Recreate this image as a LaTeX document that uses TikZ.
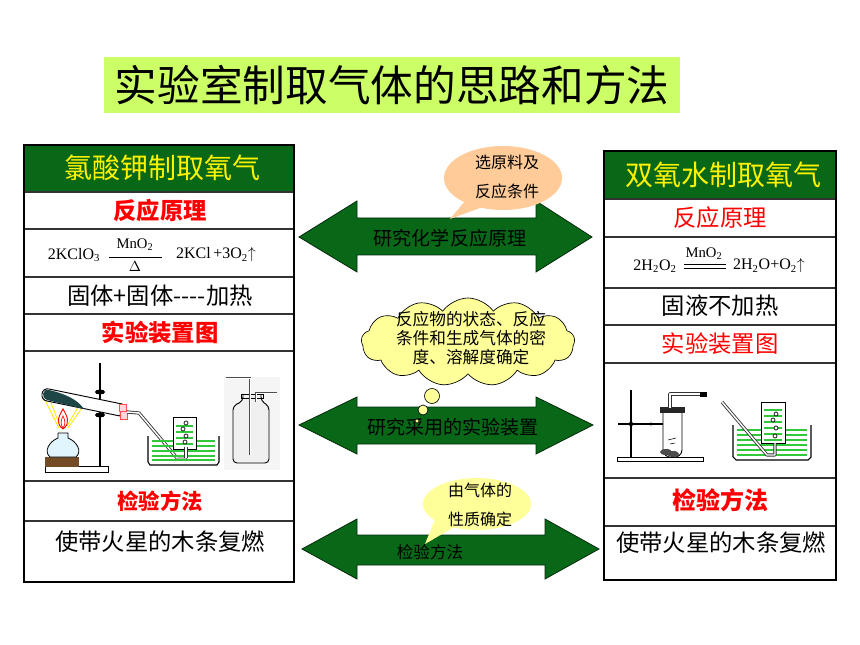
\documentclass[tikz,border=0pt]{standalone}
\usepackage{fontspec}
\setmainfont{Liberation Serif}
\newfontfamily\cjk{Noto Sans CJK SC}
\usetikzlibrary{shapes.symbols}
\definecolor{titlegreen}{HTML}{CCFF66}
\definecolor{darkgreen}{RGB}{8,104,24}
\definecolor{peach}{HTML}{FFCC99}
\definecolor{paleyellow}{HTML}{FFFF99}
\definecolor{watergreen}{RGB}{50,200,60}
\definecolor{tubedark}{RGB}{30,70,70}
\tikzset{
  panel/.style={draw=black, line width=1.5pt},
  rowline/.style={draw=black!80, line width=0.8pt},
  hdr/.style={inner sep=0pt, font=\cjk\fontsize{21}{24}\selectfont, text=yellow},
  redlbl/.style={inner sep=0pt, font=\cjk\bfseries\fontsize{17.5}{20}\selectfont, text=red},
  redlbl2/.style={inner sep=0pt, font=\cjk\fontsize{17.5}{20}\selectfont, text=red},
  blk/.style={inner sep=0pt, font=\cjk\fontsize{17.5}{20}\selectfont, text=black},
  arrowtxt/.style={inner sep=0pt, font=\cjk\fontsize{14.3}{17}\selectfont, text=black},
  calltxt/.style={inner sep=0pt, font=\cjk\fontsize{12}{14}\selectfont, text=black},
  dblarrow/.style={fill=darkgreen, draw=black!60!darkgreen, line width=0.6pt},
  eqtxt/.style={inner sep=0pt, font=\fontsize{12}{14}\selectfont},
  eqsmall/.style={inner sep=0pt, font=\fontsize{11}{13}\selectfont},
  tubeout/.style={line width=2.4pt, black!80, line join=round},
  tubein/.style={line width=1.1pt, white, line join=round},
  water/.style={watergreen, line width=0.9pt},
}
\begin{document}
\begin{tikzpicture}[x=0.75pt,y=-0.75pt]
\useasboundingbox (0,0) rectangle (860,645);
\fill[white] (0,0) rectangle (860,645);

% ---------- title ----------
\fill[titlegreen] (104,57) rectangle (680,113);
\node[inner sep=0pt, font=\cjk\fontsize{32}{36}\selectfont] (title) at (392,85) {实验室制取气体的思路和方法};

% ---------- left panel ----------
\fill[darkgreen] (24,145) rectangle (294,192);
\draw[rowline] (24,192) -- (294,192);
\draw[rowline] (24,229) -- (294,229);
\draw[rowline] (24,277) -- (294,277);
\draw[rowline] (24,314) -- (294,314);
\draw[rowline] (24,351) -- (294,351);
\draw[rowline] (24,481) -- (294,481);
\draw[rowline] (24,521) -- (294,521);
\draw[panel] (24,145) rectangle (294,582);

\node[hdr] (lhdr) at (162,168) {氯酸钾制取氧气};
\node[redlbl] (lprin) at (160,211) {反应原理};
\node[eqtxt] (leq1) at (74,255) {2KClO\textsubscript{3}};
\node[eqsmall] (lcat) at (135,245) {MnO\textsubscript{2}};
\draw[line width=0.7pt] (109,257) -- (162,257);
\node[eqsmall] (ldelta) at (135,267) {$\Delta$};
\node[eqtxt] (leq2) at (216,255) {2KCl\,+3O\textsubscript{2}$\uparrow$};
\node[blk] (lstate) at (160,296) {固体+固体----加热};
\node[redlbl] (lapp) at (160,333) {实验装置图};
\node[redlbl, font=\cjk\bfseries\fontsize{16}{19}\selectfont] (ltest) at (160,501) {检验方法};
\node[blk] (lres) at (160,542) {使带火星的木条复燃};

% left apparatus: heating setup
\draw[line width=1.2pt] (100,363) -- (100,466);
\draw[fill=white, line width=0.6pt] (45,466) rectangle (108,472);
\fill[brown!60!black] (45,457) rectangle (79,467);
\draw[fill=cyan!12, line width=0.6pt] (50,457) .. controls (43,451) and (50,441) .. (58,438) -- (58,433) -- (68,433) -- (68,438) .. controls (76,441) and (83,451) .. (76,457) -- cycle;
\draw[yellow!90!orange, line width=0.6pt] (43,396) -- (59,428) (50,400) -- (60,426) (86,402) -- (68,428) (80,404) -- (67,426);
\draw[red, line width=0.7pt] (63,429) .. controls (55,423) and (59,416) .. (63,409) .. controls (67,416) and (71,423) .. (63,429);
\draw[red, line width=0.5pt] (63,428) .. controls (60,424) and (61,420) .. (63,416) .. controls (65,420) and (66,424) .. (63,428);
% test tube
\draw[fill=white, line width=0.7pt] (122,404) -- (49,389) .. controls (41,387) and (39,400) .. (47,401) -- (120,416) -- cycle;
\fill[tubedark] (49,390) .. controls (42,388) and (41,399) .. (47,400) -- (84,409) .. controls (78,400) and (66,394) .. cycle;
\fill[black] (100,392) ellipse [x radius=5, y radius=2.5];
\fill[black] (100,415) ellipse [x radius=5, y radius=2.5];
\draw[red!70, fill=red!15, line width=0.5pt] (119,404) rectangle (126,411);
\draw[red!70, fill=red!15, line width=0.5pt] (120,411) rectangle (127,419);
% delivery tube
\draw[tubeout] (127,412) -- (139,413) -- (177,458) -- (186,458) -- (186,447);
\draw[tubein] (127,412) -- (139,413) -- (177,458) -- (186,458) -- (186,447);
% trough
\foreach \yy in {441,446,451,456,460} {\draw[water] (152,\yy) -- (215,\yy);}
\draw[fill=white, line width=0.7pt] (173,417) rectangle (196,449);
\foreach \yy in {426,432,438,444} {\draw[water] (176,\yy) -- (193,\yy);}
\foreach \bx/\by in {186/423, 183/429, 186/436, 185/442} {\draw[line width=0.5pt, fill=white] (\bx,\by) circle (2);}
\draw[tubeout] (186,458) -- (186,447);
\draw[tubein] (186,458) -- (186,447);
\draw[line width=0.8pt] (148,436) -- (148,462) -- (150,465) -- (217,465) -- (219,462) -- (219,436);
% gas bottle
\fill[gray!8] (224,377) rectangle (280,470);
\draw[line width=0.7pt, fill=gray!12, rounded corners=3pt] (243,395) -- (243,401) -- (233,406) -- (233,463) -- (269,463) -- (269,406) -- (261,401) -- (261,395);
\draw[line width=0.7pt] (241,394) rectangle (263,398);
\draw[line width=1.6pt, gray!60!black] (226,378) -- (250,378) -- (250,455);
\draw[line width=0.6pt, white] (226,378) -- (250,378) -- (250,455);
\draw[line width=1.6pt, gray!60!black] (277,393) -- (256,393) -- (256,402);
\draw[line width=0.6pt, white] (277,393) -- (256,393) -- (256,402);

% ---------- right panel ----------
\fill[darkgreen] (604,151) rectangle (836,199);
\draw[rowline] (604,199) -- (836,199);
\draw[rowline] (604,237) -- (836,237);
\draw[rowline] (604,288) -- (836,288);
\draw[rowline] (604,325) -- (836,325);
\draw[rowline] (604,363) -- (836,363);
\draw[rowline] (604,478) -- (836,478);
\draw[rowline] (604,526) -- (836,526);
\draw[panel] (604,151) rectangle (836,580);

\node[hdr] (rhdr) at (723,175) {双氧水制取氧气};
\node[redlbl2] (rprin) at (720,218) {反应原理};
\node[eqtxt] (req1) at (655,266) {2H\textsubscript{2}O\textsubscript{2}};
\node[eqsmall] (rcat) at (704,254) {MnO\textsubscript{2}};
\draw[line width=0.6pt] (684,264) -- (726,264) (684,268) -- (726,268);
\node[eqtxt] (req2) at (769,266) {2H\textsubscript{2}O+O\textsubscript{2}$\uparrow$};
\node[blk] (rstate) at (720,306) {固液不加热};
\node[redlbl2] (rapp) at (720,344) {实验装置图};
\node[redlbl, font=\cjk\bfseries\fontsize{18}{21}\selectfont] (rtest) at (720,500) {检验方法};
\node[blk] (rres) at (721,543) {使带火星的木条复燃};

% right apparatus: generator
\draw[fill=white, line width=0.7pt] (617,457) rectangle (703,461);
\draw[line width=1.3pt] (631,390) -- (631,457);
\draw[line width=1pt] (618,424) -- (663,424);
\fill (651,424) circle (1.6);
\fill (631,424) circle (2.2);
\draw[fill=white, line width=0.7pt] (663,412) -- (663,450) .. controls (663,460) and (682,460) .. (682,450) -- (682,412);
\fill[black!70] (666,452) ellipse [x radius=6, y radius=3];
\fill[black!70] (673,454) ellipse [x radius=6, y radius=3];
\draw[line width=0.4pt] (668,440) -- (676,438) (670,444) -- (675,443);
\fill[black!85] (660,407) rectangle (685,413);
\draw[tubeout, line width=2.6pt] (670,408) -- (670,394) -- (702,394);
\draw[tubein] (670,408) -- (670,394) -- (702,394);
\fill[black] (700,391.5) rectangle (707,396.5);
% right trough
\foreach \yy in {430,435,440,445,450,455} {\draw[water] (737,\yy) -- (807,\yy);}
\draw[fill=white, line width=0.7pt] (761,402) rectangle (785,443);
\foreach \yy in {410,416,422,428,434,440} {\draw[water] (764,\yy) -- (782,\yy);}
\foreach \bx/\by in {776/414, 773/420, 776/428, 775/436} {\draw[line width=0.5pt, fill=white] (\bx,\by) circle (2);}
\draw[tubeout] (722,402) -- (767,455) -- (775,455) -- (775,443);
\draw[tubein] (722,402) -- (767,455) -- (775,455) -- (775,443);
\draw[line width=0.8pt] (733,425) -- (733,457) -- (736,460) -- (808,460) -- (811,457) -- (811,425);

% ---------- middle arrows ----------
\path[dblarrow] (299,237) -- (357,201) -- (357,218) -- (536,218) -- (536,201) -- (592,237) -- (536,272) -- (536,255) -- (357,255) -- (357,272) -- cycle;
\node[arrowtxt] (a1) at (450,238) {研究化学反应原理};

\path[dblarrow] (299,425) -- (357,397) -- (357,407) -- (536,407) -- (536,397) -- (593,425) -- (536,454) -- (536,444) -- (357,444) -- (357,454) -- cycle;
\node[arrowtxt] (a2) at (453,427) {研究采用的实验装置};

\path[dblarrow] (302,549) -- (357,519) -- (357,535) -- (545,535) -- (545,519) -- (599,549) -- (545,579) -- (545,565) -- (357,565) -- (357,579) -- cycle;
\node[arrowtxt, font=\cjk\fontsize{12.4}{15}\selectfont] (a3) at (430,552) {检验方法};

% ---------- callouts ----------
\fill[peach] (503,178) ellipse [x radius=59, y radius=32];
\fill[peach] (466,200) -- (488,205) -- (450,219) -- cycle;
\node[calltxt] (c1a) at (507,162) {选原料及};
\node[calltxt] (c1b) at (507,191) {反应条件};

\node[cloud, cloud puffs=13, cloud puff arc=110, aspect=2.4, draw=black, line width=0.5pt, fill=paleyellow, minimum width=160pt, minimum height=66pt, inner sep=0pt] (cloud) at (468,342) {};
\node[calltxt, font=\cjk\fontsize{12.5}{15}\selectfont, align=center] (c2) at (471,338) {反应物的状态、反应\\[-0.5pt]条件和生成气体的密\\[-0.5pt]度、溶解度确定};
\draw[fill=paleyellow, line width=0.5pt] (432,396) circle (7.5);
\draw[fill=paleyellow, line width=0.5pt] (423,410) circle (5);
\draw[fill=paleyellow, line width=0.5pt] (417,421) circle (2);

\fill[paleyellow] (477,504) ellipse [x radius=54, y radius=26];
\fill[paleyellow] (436,517) -- (456,526) -- (425,544) -- cycle;
\node[calltxt] (c3a) at (480,490) {由气体的};
\node[calltxt] (c3b) at (480,519) {性质确定};
\end{tikzpicture}
\end{document}
